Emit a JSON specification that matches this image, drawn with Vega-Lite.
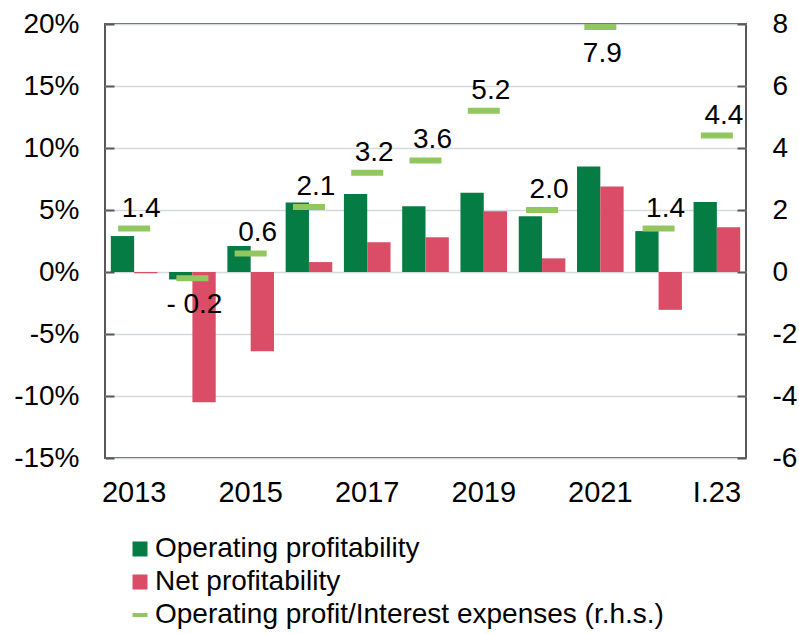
{
  "$schema": "https://vega.github.io/schema/vega-lite/v6.json",
  "width": 641,
  "height": 434,
  "autosize": {"type": "none"},
  "padding": {"left": 105, "top": 24, "right": 53, "bottom": 176},
  "background": "white",
  "config": {
    "font": "Liberation Sans",
    "view": {"stroke": "#595959", "strokeWidth": 2},
    "axis": {"labelFont": "Liberation Sans", "labelColor": "#000000", "domain": false, "titleFont": "Liberation Sans"}
  },
  "datasets": {
    "bars": [
      {"year": "2013", "series": "Operating profitability", "value": 2.9},
      {"year": "2013", "series": "Net profitability", "value": -0.1},
      {"year": "2014", "series": "Operating profitability", "value": -0.6},
      {"year": "2014", "series": "Net profitability", "value": -10.5},
      {"year": "2015", "series": "Operating profitability", "value": 2.1},
      {"year": "2015", "series": "Net profitability", "value": -6.4},
      {"year": "2016", "series": "Operating profitability", "value": 5.6},
      {"year": "2016", "series": "Net profitability", "value": 0.8},
      {"year": "2017", "series": "Operating profitability", "value": 6.3},
      {"year": "2017", "series": "Net profitability", "value": 2.4},
      {"year": "2018", "series": "Operating profitability", "value": 5.3},
      {"year": "2018", "series": "Net profitability", "value": 2.8},
      {"year": "2019", "series": "Operating profitability", "value": 6.4},
      {"year": "2019", "series": "Net profitability", "value": 4.9},
      {"year": "2020", "series": "Operating profitability", "value": 4.5},
      {"year": "2020", "series": "Net profitability", "value": 1.1},
      {"year": "2021", "series": "Operating profitability", "value": 8.5},
      {"year": "2021", "series": "Net profitability", "value": 6.9},
      {"year": "2022", "series": "Operating profitability", "value": 3.3},
      {"year": "2022", "series": "Net profitability", "value": -3.05},
      {"year": "I.23", "series": "Operating profitability", "value": 5.65},
      {"year": "I.23", "series": "Net profitability", "value": 3.6}
    ],
    "ratio": [
      {"year": "2013", "series": "Operating profit/Interest expenses (r.h.s.)", "ratio": 1.4, "label": "1.4"},
      {"year": "2014", "series": "Operating profit/Interest expenses (r.h.s.)", "ratio": -0.2, "label": "- 0.2"},
      {"year": "2015", "series": "Operating profit/Interest expenses (r.h.s.)", "ratio": 0.6, "label": "0.6"},
      {"year": "2016", "series": "Operating profit/Interest expenses (r.h.s.)", "ratio": 2.1, "label": "2.1"},
      {"year": "2017", "series": "Operating profit/Interest expenses (r.h.s.)", "ratio": 3.2, "label": "3.2"},
      {"year": "2018", "series": "Operating profit/Interest expenses (r.h.s.)", "ratio": 3.6, "label": "3.6"},
      {"year": "2019", "series": "Operating profit/Interest expenses (r.h.s.)", "ratio": 5.2, "label": "5.2"},
      {"year": "2020", "series": "Operating profit/Interest expenses (r.h.s.)", "ratio": 2.0, "label": "2.0"},
      {"year": "2021", "series": "Operating profit/Interest expenses (r.h.s.)", "ratio": 7.9, "label": "7.9"},
      {"year": "2022", "series": "Operating profit/Interest expenses (r.h.s.)", "ratio": 1.4, "label": "1.4"},
      {"year": "I.23", "series": "Operating profit/Interest expenses (r.h.s.)", "ratio": 4.4, "label": "4.4"}
    ]
  },
  "encoding": {
    "x": {
      "field": "year",
      "type": "nominal",
      "sort": null,
      "scale": {"paddingInner": 0.2, "paddingOuter": 0.1},
      "axis": {
        "title": null,
        "labelAngle": 0,
        "labelFontSize": 29,
        "ticks": false,
        "labelPadding": 20,
        "labelExpr": "indexof(['2013','2015','2017','2019','2021','I.23'], datum.value) >= 0 ? datum.label : ''"
      }
    }
  },
  "layer": [
    {
      "data": {"name": "bars"},
      "mark": {"type": "bar"},
      "encoding": {
        "xOffset": {"field": "series", "type": "nominal", "sort": ["Operating profitability", "Net profitability"], "scale": {"paddingInner": 0}},
        "y": {
          "field": "value",
          "type": "quantitative",
          "scale": {"domain": [-15, 20], "nice": false},
          "axis": {
            "title": null,
            "values": [-15, -10, -5, 0, 5, 10, 15, 20],
            "labelExpr": "datum.value + '%'",
            "labelFontSize": 28,
            "labelPadding": 35,
            "tickSize": -9,
            "tickWidth": 2,
            "tickColor": "#595959",
            "grid": true,
            "gridColor": "#D3D9DF",
            "gridWidth": 1.5
          }
        },
        "color": {
          "field": "series",
          "type": "nominal",
          "scale": {
            "domain": ["Operating profitability", "Net profitability", "Operating profit/Interest expenses (r.h.s.)"],
            "range": ["#067C45", "#DB4C66", "#92C760"]
          },
          "legend": {
            "orient": "none",
            "legendX": 21,
            "legendY": 511,
            "title": null,
            "padding": 0,
            "labelFont": "Liberation Sans",
            "labelFontSize": 28,
            "labelColor": "#000000",
            "labelOffset": 1,
            "symbolSize": 225,
            "symbolStrokeWidth": 0,
            "rowPadding": 5,
            "labelLimit": 700,
            "encode": {
              "symbols": {
                "update": {
                  "shape": {"signal": "datum.value == 'Operating profit/Interest expenses (r.h.s.)' ? 'M-1,-0.27H1V0.27H-1Z' : 'square'"},
                  "fill": {"scale": "color", "field": "value"},
                  "opacity": {"value": 1}
                }
              }
            }
          }
        }
      }
    },
    {
      "data": {"name": "ratio"},
      "layer": [
        {
          "mark": {"type": "tick", "size": 32, "thickness": 6, "orient": "horizontal", "opacity": 1},
          "encoding": {
            "y": {
              "field": "ratio",
              "type": "quantitative",
              "scale": {"domain": [-6, 8], "nice": false},
              "axis": {
                "title": null,
                "orient": "right",
                "values": [-6, -4, -2, 0, 2, 4, 6, 8],
                "labelExpr": "'' + datum.value",
                "labelFontSize": 28,
                "labelPadding": 35,
                "tickSize": -9,
                "tickWidth": 2,
                "tickColor": "#595959",
                "grid": false
              }
            },
            "color": {"field": "series", "type": "nominal"}
          }
        },
        {
          "transform": [{"filter": "datum.year != '2014' && datum.year != '2021'"}],
          "mark": {"type": "text", "fontSize": 28, "baseline": "alphabetic", "dy": -12, "dx": 7, "color": "#000000"},
          "encoding": {
            "y": {"field": "ratio", "type": "quantitative"},
            "text": {"field": "label"}
          }
        },
        {
          "transform": [{"filter": "datum.year == '2014' || datum.year == '2021'"}],
          "mark": {"type": "text", "fontSize": 28, "baseline": "top", "dy": 13, "dx": 2, "color": "#000000"},
          "encoding": {
            "y": {"field": "ratio", "type": "quantitative"},
            "text": {"field": "label"}
          }
        }
      ]
    }
  ],
  "resolve": {"scale": {"y": "independent"}}
}
